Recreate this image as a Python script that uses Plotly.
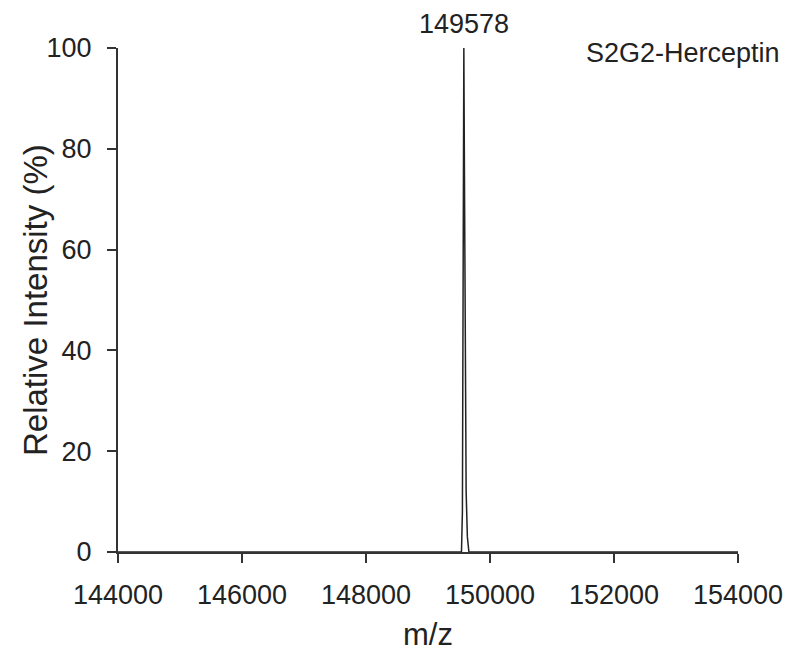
import plotly.graph_objects as go

# Spectrum data (deconvoluted mass spectrum)
mz = [144000, 149500, 149540, 149555, 149568, 149578, 149588, 149600, 149615, 149635, 149660, 154000]
intensity = [0, 0, 0, 8, 55, 100, 75, 35, 12, 3, 0, 0]

x_ticks = [144000, 146000, 148000, 150000, 152000, 154000]
y_ticks = [0, 20, 40, 60, 80, 100]

peak_label = "149578"
peak_mz = 149578
sample_label = "S2G2-Herceptin"
x_title = "m/z"
y_title = "Relative Intensity (%)"

FONT = "Liberation Sans, Arial, Helvetica, sans-serif"
# page body has an 8px margin, so the figure is laid out 8px smaller/shifted
W, H = 783, 644
L, T = 110, 40
PW, PH = 620, 504
R, B = W - L - PW, H - T - PH

fig = go.Figure()
fig.add_trace(go.Scatter(x=mz, y=intensity, mode="lines",
                         line=dict(color="#222222", width=1.5),
                         hoverinfo="skip", showlegend=False))

fig.add_annotation(x=peak_mz, y=100, xref="x", yref="y", text=peak_label,
                   showarrow=False, yanchor="bottom", yshift=7,
                   font=dict(family=FONT, size=27, color="#222222"))
fig.add_annotation(x=(774 - L) / PW, y=1 - 5 / PH, xref="x domain", yref="y domain",
                   text=sample_label, showarrow=False, xanchor="right", yanchor="middle",
                   font=dict(family=FONT, size=27, color="#222222"))
# y-axis title placed as a rotated annotation for exact position
fig.add_annotation(x=-(118 - 35) / PW, y=0.5, xref="x domain", yref="y domain",
                   text=y_title, textangle=-90, showarrow=False,
                   xanchor="center", yanchor="middle",
                   font=dict(family=FONT, size=33, color="#222222"))

fig.update_layout(
    width=W, height=H,
    margin=dict(l=L, r=R, t=T, b=B),
    paper_bgcolor="white", plot_bgcolor="white",
    font=dict(family=FONT, size=27, color="#222222"),
)

fig.update_xaxes(range=[144000, 154000], tickvals=x_ticks,
                 ticktext=[str(v) for v in x_ticks],
                 showgrid=False, zeroline=False, showline=True, automargin=False,
                 linecolor="#333333", linewidth=2,
                 ticks="outside", ticklen=9, tickwidth=2, tickcolor="#333333",
                 ticklabelstandoff=9,
                 tickfont=dict(family=FONT, size=27),
                 title=dict(text=x_title, font=dict(family=FONT, size=31), standoff=14))
fig.update_yaxes(range=[0, 100], tickvals=y_ticks,
                 showgrid=False, zeroline=False, showline=True, automargin=False,
                 linecolor="#333333", linewidth=2,
                 ticks="outside", ticklen=9, tickwidth=2, tickcolor="#333333",
                 ticklabelstandoff=10,
                 tickfont=dict(family=FONT, size=27))

fig.write_html("out.html")
